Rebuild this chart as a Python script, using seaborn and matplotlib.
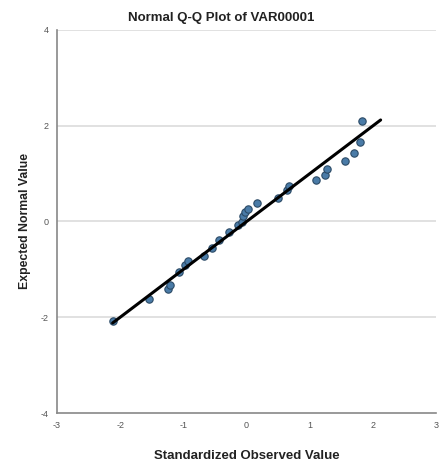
import matplotlib
matplotlib.use('Agg')
import matplotlib.pyplot as plt
import seaborn as sns
import pandas as pd

# standardized observed vs expected normal values
observed = [-2.12, -1.54, -1.24, -1.21, -1.07, -0.97, -0.92, -0.68, -0.55, -0.44,
            -0.28, -0.13, -0.08, -0.05, -0.02, 0.02, 0.16, 0.49, 0.64, 0.67,
            1.10, 1.24, 1.27, 1.55, 1.70, 1.79, 1.83]
expected = [-2.08, -1.62, -1.42, -1.33, -1.05, -0.90, -0.83, -0.72, -0.55, -0.39,
            -0.22, -0.08, -0.01, 0.12, 0.19, 0.26, 0.39, 0.49, 0.66, 0.74,
            0.87, 0.98, 1.10, 1.26, 1.43, 1.66, 2.10]
ref_x = [-2.12, 2.12]
ref_y = [-2.12, 2.12]
x_ticks = [-3, -2, -1, 0, 1, 2, 3]
y_ticks = [-4, -2, 0, 2, 4]

df = pd.DataFrame({'obs': observed, 'exp': expected})
ref = pd.DataFrame({'x': ref_x, 'y': ref_y})

sns.set_style("white")
plt.rcParams['font.family'] = ['Liberation Sans', 'DejaVu Sans']
plt.rcParams['axes.unicode_minus'] = False

fig = plt.figure(figsize=(4.4, 4.68), dpi=100)
ax = fig.add_axes([0.1295, 0.1175, 0.862, 0.8185])

for yv in [2, 0, -2, 4]:
    ax.axhline(yv, color='#dcdcdc', lw=1.2, zorder=0)

sns.scatterplot(x='obs', y='exp', data=df, ax=ax, s=28, color='#4a7ba7',
                edgecolor='#2b4a66', linewidth=0.8, zorder=3)
sns.lineplot(x='x', y='y', data=ref, ax=ax, color='black', lw=2.2, zorder=4)

ax.set_xlim(-3, 3)
ax.set_ylim(-4, 4)
ax.set_xticks(x_ticks)
ax.set_yticks(y_ticks)
ax.tick_params(axis='both', labelsize=6.5, labelcolor='#555555', length=2,
               color='#888888', pad=4)
for s in ['top', 'right']:
    ax.spines[s].set_visible(False)
for s in ['left', 'bottom']:
    ax.spines[s].set_color('#888888')
    ax.spines[s].set_linewidth(1.2)

ax.set_xlabel('Standardized Observed Value', fontsize=9.5, fontweight='bold',
              color='#222222', labelpad=14)
ax.set_ylabel('Expected Normal Value', fontsize=8.8, fontweight='bold',
              color='#222222', labelpad=7)
fig.text(0.503, 0.962, 'Normal Q-Q Plot of VAR00001', ha='center', va='center',
         fontsize=9.5, fontweight='bold', color='#222222')

fig.savefig('out.png', dpi=100)
